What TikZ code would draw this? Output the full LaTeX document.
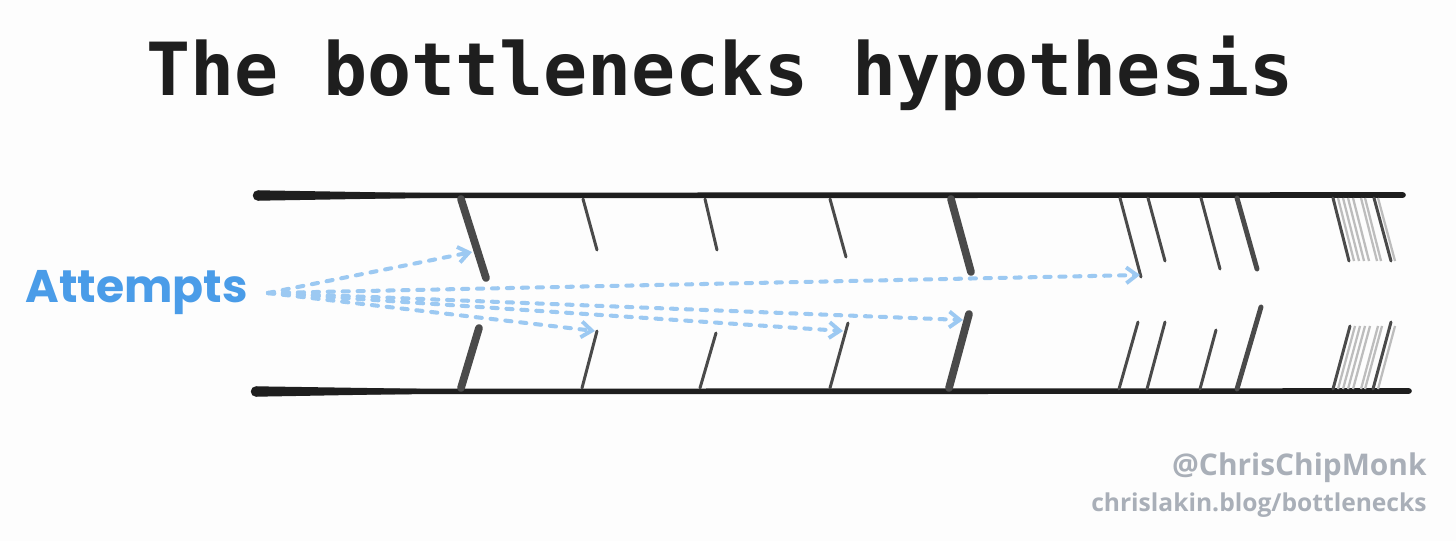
\documentclass[tikz,border=0pt]{standalone}
\usepackage{fontspec}
\usetikzlibrary{arrows.meta,positioning}
\newfontfamily\titlefont{DejaVu Sans Mono}
\newfontfamily\handfont{Poppins}
\newfontfamily\creditfont{Open Sans}
\definecolor{inkBlack}{HTML}{1E1E1E}
\definecolor{barGray}{HTML}{4A4A4A}
\definecolor{faintGray}{HTML}{BDBDBD}
\definecolor{attemptBlue}{HTML}{4A9CE8}
\definecolor{dashBlue}{HTML}{9CC9F2}
\definecolor{creditGray}{HTML}{A9AFB8}
\definecolor{paper}{HTML}{FDFDFD}

\begin{document}
\begin{tikzpicture}[x=0.02cm,y=-0.02cm,
    rail/.style={draw=inkBlack,line width=3.2pt,line cap=round},
    barthick/.style={draw=barGray,line width=4.4pt,line cap=round},
    barmid/.style={draw=barGray,line width=2.8pt,line cap=round},
    barthin/.style={draw=barGray,line width=1.7pt,line cap=round},
    barfaint/.style={draw=faintGray,line width=1.3pt},
    attempt/.style={draw=dashBlue,line width=2.3pt,line cap=round,
      dash pattern=on 3.5pt off 5pt,
      -{Straight Barb[length=6pt,width=9pt,line width=2.2pt]}}]
      \fill[paper] (0,0) rectangle (1456,541);
      \useasboundingbox (0,0) rectangle (1456,541);
      \node[font=\titlefont\bfseries\fontsize{41.7}{48}\selectfont,text=inkBlack,anchor=base] (title) at (720,95)
        {The bottlenecks hypothesis};
      % the two rails, thicker at the mouth
      \draw[rail] (258,195.5) -- (1403,195);
      \fill[inkBlack] (258,190.3) -- (420,193) -- (420,198) -- (258,200.7) -- cycle;
      \fill[inkBlack] (258,195.5) circle[radius=0.105cm];
      \draw[rail] (256,391.5) -- (1409,391);
      \fill[inkBlack] (256,386.3) -- (420,388.8) -- (420,393.8) -- (256,396.7) -- cycle;
      \fill[inkBlack] (256,391.5) circle[radius=0.105cm];
      % bars hanging from the top rail
      \draw[barthick] (461,199) -- (486,278);
      \draw[barthin] (583,199) -- (597,250);
      \draw[barthin] (705,199) -- (717,250);
      \draw[barthin] (830,199) -- (846,257);
      \draw[barthick] (951,199) -- (971,272);
      \draw[barthin] (1120,198) -- (1141,277);
      \draw[barthin] (1148,198) -- (1165,261);
      \draw[barthin] (1201,198) -- (1220,269);
      \draw[barmid] (1237,198) -- (1257,269);
      \draw[barfaint] (1338,198) -- (1354,261);
      \draw[barfaint] (1343,198) -- (1359,261);
      \draw[barfaint] (1348,198) -- (1364,261);
      \draw[barfaint] (1353,198) -- (1369,261);
      \draw[barfaint] (1361,198) -- (1377,261);
      \draw[barfaint] (1365,198) -- (1381,261);
      \draw[barfaint] (1378,198) -- (1395,261);
      \draw[barthin] (1333,198) -- (1349,261);
      \draw[barthin] (1374,198) -- (1391,261);
      % bars rising from the bottom rail
      \draw[barthick] (461,388) -- (479,328);
      \draw[barthin] (582,388) -- (597,331);
      \draw[barthin] (700,388) -- (716,333);
      \draw[barthin] (830,388) -- (848,323);
      \draw[barthick] (949,388) -- (969,314);
      \draw[barthin] (1119,389) -- (1138,322);
      \draw[barthin] (1147,389) -- (1165,322);
      \draw[barthin] (1200,389) -- (1216,330);
      \draw[barmid] (1237,389) -- (1261,307);
      \draw[barfaint] (1338,389) -- (1355,326);
      \draw[barfaint] (1343,389) -- (1360,326);
      \draw[barfaint] (1348,389) -- (1365,326);
      \draw[barfaint] (1353,389) -- (1370,326);
      \draw[barfaint] (1361,389) -- (1378,326);
      \draw[barfaint] (1365,389) -- (1382,326);
      \draw[barfaint] (1378,389) -- (1395,326);
      \draw[barthin] (1333,389) -- (1350,326);
      \draw[barthin] (1373,389) -- (1391,322);
      % attempts fanning out
      \node[font=\handfont\bfseries\fontsize{26}{30}\selectfont,text=attemptBlue,anchor=base west,inner sep=0pt] (attempts) at (25,302)
        {Attempts};
      \coordinate (fan) at (268,293);
      \coordinate (hitA) at (472,252);
      \coordinate (hitB) at (1140,275);
      \coordinate (hitC) at (963,320);
      \coordinate (hitD) at (843,331);
      \coordinate (hitE) at (595,331);
      \draw[attempt] (fan) -- (hitA);
      \draw[attempt] (fan) -- (hitB);
      \draw[attempt] (fan) -- (hitC);
      \draw[attempt] (fan) -- (hitD);
      \draw[attempt] (fan) -- (hitE);
      \node[font=\creditfont\bfseries\fontsize{17}{20}\selectfont,text=creditGray,anchor=base east,inner sep=0pt] (handle) at (1427,475)
        {@ChrisChipMonk};
      \node[font=\creditfont\bfseries\fontsize{14}{17}\selectfont,text=creditGray,anchor=base east,inner sep=0pt] (blog) at (1427,511)
        {chrislakin.blog/bottlenecks};
    \end{tikzpicture}
\end{document}
